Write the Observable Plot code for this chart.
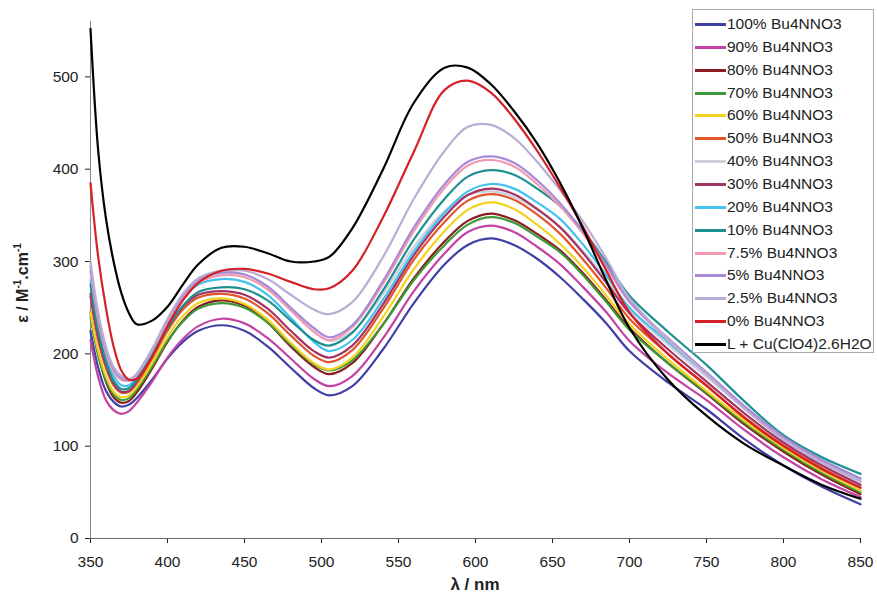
<!DOCTYPE html>
<html><head><meta charset="utf-8">
<script src="https://cdn.jsdelivr.net/npm/d3@7"></script>
<script src="https://cdn.jsdelivr.net/npm/@observablehq/plot@0.6"></script>
<style>
body{margin:0;background:#fff;font-family:"Liberation Sans",Arial,sans-serif;}
#wrap{position:relative;width:877px;height:597px;overflow:hidden;}
#legend{position:absolute;left:692px;top:9px;width:182px;height:344px;border:1px solid #aaa;background:#fff;box-sizing:border-box;}
.item{position:absolute;left:0;height:20px;line-height:20px;font-size:15.5px;color:#222;white-space:nowrap;}
.item span.sw{position:absolute;left:2px;top:9px;width:31px;height:3px;}
.item span.tx{position:absolute;left:34px;top:0;}
#ylab{position:absolute;left:22px;top:283px;transform:translate(-50%,-50%) rotate(-90deg);font-size:16px;font-weight:bold;color:#222;white-space:nowrap;}
#xlab{position:absolute;left:475px;top:575px;transform:translateX(-50%);font-size:17px;line-height:20px;font-weight:bold;color:#222;white-space:nowrap;}
</style></head>
<body>
<div id="wrap"></div>
<script>
// wavelength grid (nm)
const wl = [350,355,360,365,370,375,380,390,400,410,420,435,450,465,480,495,505,520,540,560,580,595,610,625,640,655,670,685,700,725,750,775,800,825,850];

// series values (epsilon, M^-1 cm^-1)
const s100 = [225,185,160,148,143,145,152,172,195,213,225,231,225,208,185,163,155,165,205,255,297,318,325,318,303,283,259,233,203,169,140,107,79,56,37];
const s90  = [215,175,150,139,135,138,147,170,196,216,230,238,233,217,195,173,165,176,217,268,309,332,339,332,316,297,272,245,214,179,150,117,88,64,45];
const s80  = [245,200,170,153,147,149,158,184,213,236,251,258,252,234,208,186,178,190,232,282,322,344,352,345,330,312,287,258,228,190,157,123,94,69,48];
const s70  = [240,198,172,156,150,152,161,186,214,235,249,255,250,234,210,189,182,193,232,280,318,340,348,342,327,310,285,256,226,190,158,125,96,71,50];
const s60  = [245,203,176,159,153,155,164,190,219,241,255,260,254,237,212,190,183,196,240,292,333,356,364,357,340,319,293,263,232,194,160,127,98,73,52];
const s50  = [262,215,185,166,158,159,168,195,225,248,261,265,260,244,220,198,191,204,249,302,343,366,373,367,351,330,302,271,238,200,165,131,101,76,55];
const s40  = [290,235,200,180,172,171,178,204,236,262,279,287,286,273,250,224,214,224,265,316,355,372,376,370,356,337,311,280,248,210,175,140,107,82,60];
const s30  = [265,218,188,168,159,160,170,198,228,251,264,268,264,249,225,203,196,209,254,307,349,372,379,373,357,337,309,277,244,205,170,135,104,79,58];
const s20  = [280,228,196,176,166,166,174,202,234,260,275,281,278,264,239,213,203,215,259,311,353,376,384,379,364,346,318,285,250,213,178,142,110,85,65];
const s10  = [275,225,192,171,162,163,172,198,228,252,267,272,270,258,236,215,209,223,269,324,368,392,399,394,379,360,333,299,263,224,188,148,112,88,70];
const s7_5 = [290,236,202,181,172,171,178,204,235,261,277,285,283,270,247,224,215,229,276,333,380,404,410,403,384,360,330,294,256,215,178,141,108,83,62];
const s5   = [295,240,205,184,174,172,178,205,237,263,280,288,286,273,250,228,218,231,279,337,384,408,414,407,388,363,332,296,257,217,180,143,110,85,65];
const s2_5 = [300,245,208,186,176,173,178,205,238,265,282,290,290,281,264,248,243,256,305,368,420,446,448,434,408,377,343,303,260,216,178,140,107,82,62];
const s0   = [385,305,250,208,182,172,173,197,230,258,277,290,292,287,278,270,271,290,348,419,486,496,483,455,420,380,337,290,245,200,166,130,100,75,55];
const sL   = [552,420,347,300,266,244,232,236,251,275,297,315,316,309,300,300,305,336,400,472,510,510,492,463,428,385,335,279,228,172,133,102,79,58,43];

const labels = ["100% Bu4NNO3","90% Bu4NNO3","80% Bu4NNO3","70% Bu4NNO3","60% Bu4NNO3","50% Bu4NNO3","40% Bu4NNO3","30% Bu4NNO3","20% Bu4NNO3","10% Bu4NNO3","7.5% Bu4NNO3","5% Bu4NNO3","2.5% Bu4NNO3","0% Bu4NNO3","L + Cu(ClO4)2.6H2O"];
const colors = ["#3f3fa6","#c243a4","#8a1c22","#3d9a3a","#f2d21e","#e2542a","#cfcfdc","#a33464","#44c2ee","#1f9090","#f29bb0","#a98ad6","#b9aed6","#d42027","#000000"];
const seriesList = [s100,s90,s80,s70,s60,s50,s40,s30,s20,s10,s7_5,s5,s2_5,s0,sL];

const xTicks = [350,400,450,500,550,600,650,700,750,800,850];
const yTicks = [0,100,200,300,400,500];

const rows = [];
seriesList.forEach((vals, i) => vals.forEach((v, j) => rows.push({wl: wl[j], eps: v, s: labels[i]})));

const chart = Plot.plot({
  width: 877, height: 597,
  marginLeft: 90, marginRight: 17, marginTop: 21, marginBottom: 59,
  style: {fontFamily: "'Liberation Sans', Arial, sans-serif", fontSize: "15.5px", color: "#222", background: "#fff"},
  x: {domain: [350, 850], ticks: xTicks, tickSize: 5, tickPadding: 12, label: null, tickFormat: d => String(d)},
  y: {domain: [0, 560], ticks: yTicks, tickSize: 5, tickPadding: 7, label: null, tickFormat: d => String(d)},
  color: {domain: labels, range: colors},
  marks: [
    Plot.ruleX([350], {stroke: "#888", y1: 0, y2: 560}),
    Plot.ruleY([0], {stroke: "#666"}),
    Plot.line(rows, {x: "wl", y: "eps", z: "s", stroke: "s", strokeWidth: 2.2, curve: "catmull-rom"})
  ]
});
const wrap = document.getElementById("wrap");
wrap.appendChild(chart);

// legend
const leg = document.createElement("div");
leg.id = "legend";
labels.forEach((lab, i) => {
  const it = document.createElement("div");
  it.className = "item";
  it.style.top = (4 + 22.85 * i) + "px";
  const sw = document.createElement("span");
  sw.className = "sw"; sw.style.background = colors[i];
  const tx = document.createElement("span");
  tx.className = "tx"; tx.textContent = lab;
  it.appendChild(sw); it.appendChild(tx);
  leg.appendChild(it);
});
wrap.appendChild(leg);

const yl = document.createElement("div");
yl.id = "ylab";
yl.innerHTML = "&epsilon; / M<sup style='font-size:10px'>-1</sup>.cm<sup style='font-size:10px'>-1</sup>";
wrap.appendChild(yl);
const xl = document.createElement("div");
xl.id = "xlab";
xl.textContent = "λ / nm";
wrap.appendChild(xl);
</script>
</body></html>
